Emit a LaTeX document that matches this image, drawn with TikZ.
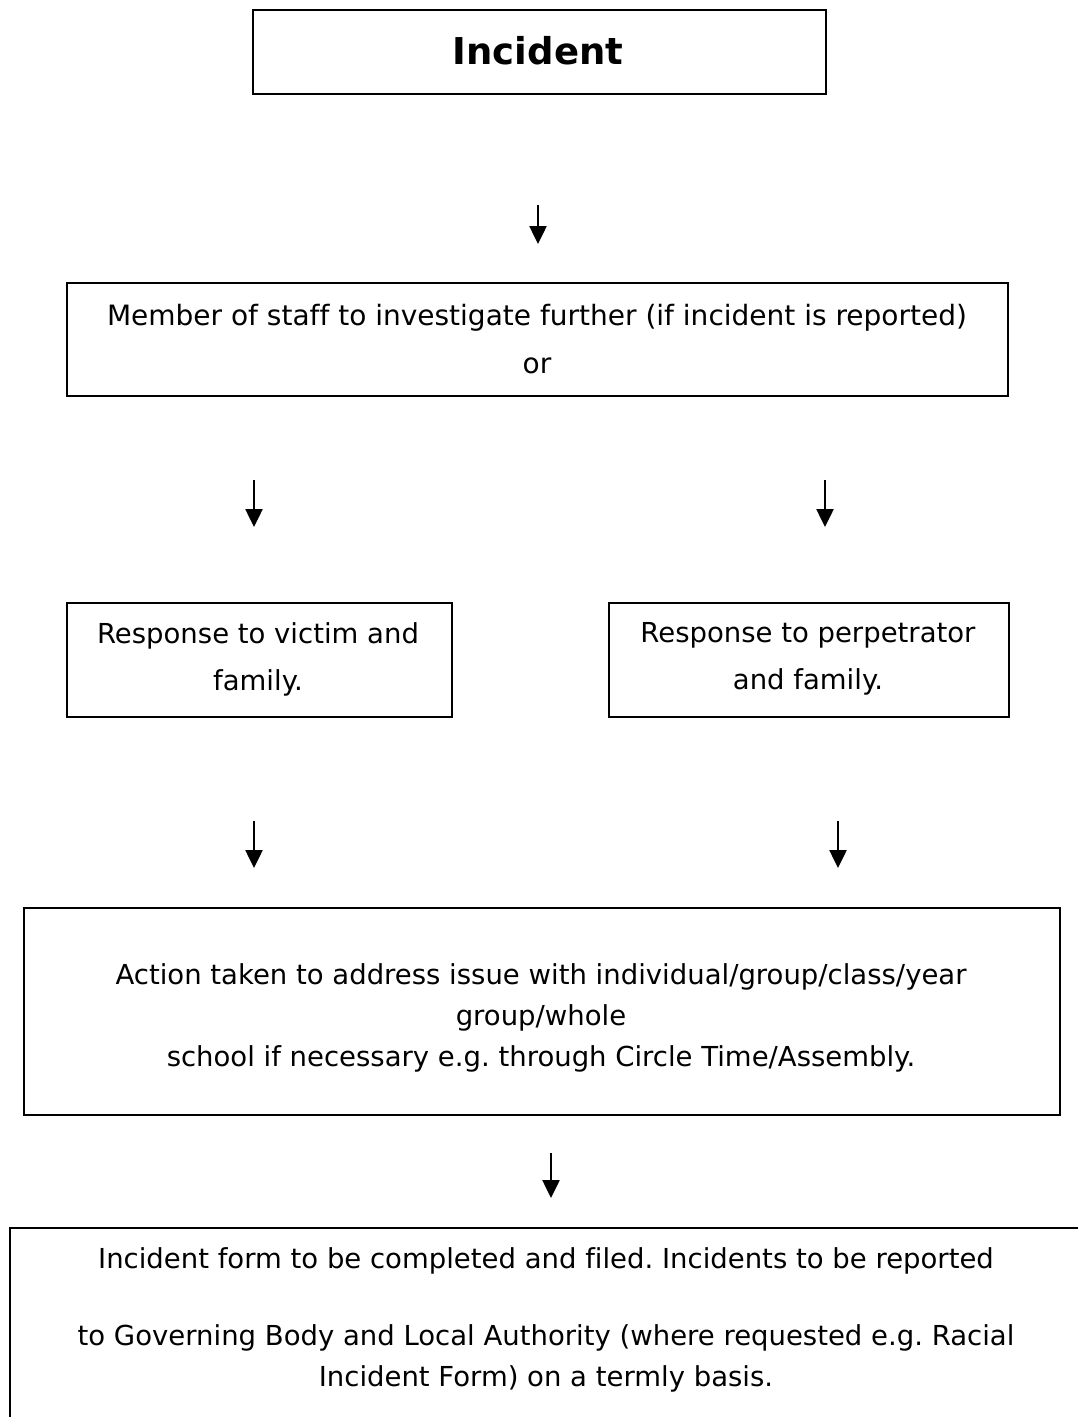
\documentclass[tikz,border=0pt]{standalone}
\usepackage{fontspec}
\setmainfont[Ligatures=NoCommon]{DejaVu Sans}
\usetikzlibrary{arrows.meta}
\frenchspacing
\begin{document}
\begin{tikzpicture}[x=1pt,y=-1pt,
  box/.style={draw=black,line width=1.6pt,inner sep=0pt,anchor=north west},
  txt/.style={font=\fontsize{27.5}{41}\selectfont,align=center,inner sep=0pt},
  arr/.style={line width=2.5pt,-{Triangle[width=17pt,length=18pt]}}]
\useasboundingbox (0,0) rectangle (1078,1417);
\clip (0,0) rectangle (1078,1417);
% Incident
\node[box,minimum width=573pt,minimum height=84pt] (inc) at (252,9) {};
\node[font=\fontsize{37}{40}\selectfont\bfseries,inner sep=0pt] (inct) at (538,51) {Incident};
% arrow 1
\coordinate (a1s) at (538,205);
\coordinate (a1e) at (538,244);
\draw[arr] (a1s) -- (a1e);
% box 2
\node[box,minimum width=941pt,minimum height=113pt] (inv) at (66,282) {};
\node[txt,font=\fontsize{28}{48}\selectfont] (invt) at (537,339) {Member of staff to investigate further (if incident is reported)\\or};
% arrows 2
\coordinate (a2s) at (254,480);
\coordinate (a2e) at (254,527);
\coordinate (a3s) at (825,480);
\coordinate (a3e) at (825,527);
\draw[arr] (a2s) -- (a2e);
\draw[arr] (a3s) -- (a3e);
% boxes L R
\node[box,minimum width=385pt,minimum height=114pt] (vic) at (66,602) {};
\node[txt,font=\fontsize{27.5}{47}\selectfont] (vict) at (258,659) {Response to victim and\\family.};
\node[box,minimum width=400pt,minimum height=114pt] (per) at (608,602) {};
\node[txt,font=\fontsize{27.5}{47}\selectfont] (pert) at (808,659) {Response to perpetrator\\and family.};
% arrows 3
\coordinate (a4s) at (254,821);
\coordinate (a4e) at (254,868);
\coordinate (a5s) at (838,821);
\coordinate (a5e) at (838,868);
\draw[arr] (a4s) -- (a4e);
\draw[arr] (a5s) -- (a5e);
% action box
\node[box,minimum width=1036pt,minimum height=207pt] (act) at (23,907) {};
\node[txt] (actt) at (541,1018) {Action taken to address issue with individual/group/class/year\\group/whole\\school if necessary e.g. through Circle Time/Assembly.};
% arrow 4
\coordinate (a6s) at (551,1153);
\coordinate (a6e) at (551,1198);
\draw[arr] (a6s) -- (a6e);
% bottom box
\node[box,minimum width=1120pt,minimum height=300pt] (form) at (9,1227) {};
\node[txt] (formt) at (546,1320) {Incident form to be completed and filed. Incidents to be reported\\[36pt]to Governing Body and Local Authority (where requested e.g. Racial\\Incident Form) on a termly basis.};
\end{tikzpicture}
\end{document}
